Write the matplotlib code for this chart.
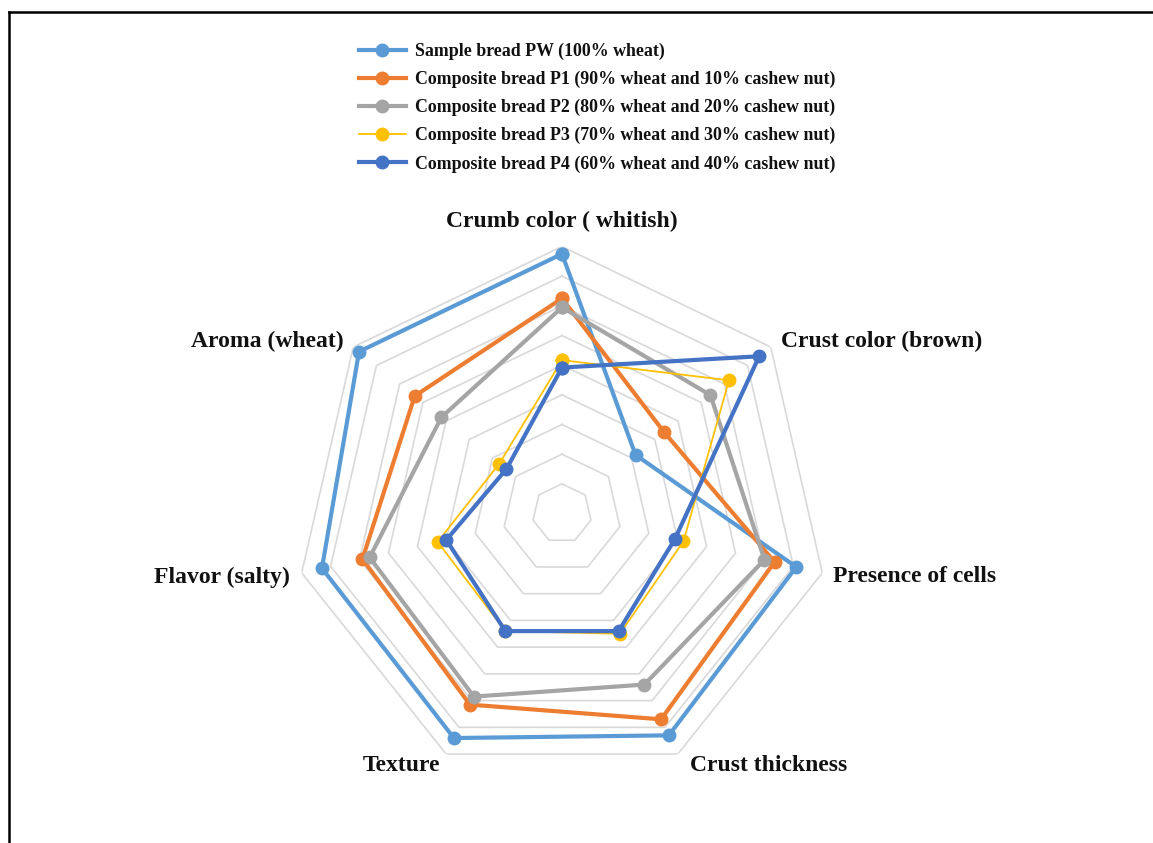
import numpy as np
import matplotlib.pyplot as plt
from matplotlib.lines import Line2D

# --- data ---
categories = ["Crumb color ( whitish)", "Crust color (brown)", "Presence of cells",
              "Crust thickness", "Texture", "Flavor (salty)", "Aroma (wheat)"]
series_names = ["Sample bread PW (100% wheat)",
                "Composite bread P1 (90% wheat and 10% cashew nut)",
                "Composite bread P2 (80% wheat and 20% cashew nut)",
                "Composite bread P3 (70% wheat and 30% cashew nut)",
                "Composite bread P4 (60% wheat and 40% cashew nut)"]
pw = [8.75, 3.17, 8.1, 8.3, 8.4, 8.3, 8.75]
p1 = [7.25, 4.4, 7.35, 7.7, 7.15, 6.9, 6.35]
p2 = [6.95, 6.4, 7.0, 6.4, 6.85, 6.65, 5.2]
p3 = [5.17, 7.2, 4.2, 4.5, 4.4, 4.3, 2.7]
p4 = [4.92, 8.5, 3.9, 4.4, 4.4, 4.0, 2.4]
# -------------

colors = ["#5B9BD5", "#ED7D31", "#A5A5A5", "#FFC000", "#4472C4"]
widths = [3.0, 3.0, 3.0, 1.3, 3.0]

W, H = 1153, 843
fig = plt.figure(figsize=(W / 100, H / 100), dpi=100)

cx, cy, R = 562, 513.5, 267
ax = fig.add_axes([(cx - R) / W, (H - cy - R) / H, 2 * R / W, 2 * R / H],
                  projection="polar")
ax.set_theta_offset(np.pi / 2)
ax.set_theta_direction(-1)
ax.set_ylim(0, 9)
ax.grid(False)
ax.spines["polar"].set_visible(False)
ax.set_xticks([])
ax.set_yticks([])
ax.patch.set_alpha(0)

n = len(categories)
theta = np.linspace(0, 2 * np.pi, n, endpoint=False)
theta_c = np.append(theta, theta[0])

# heptagon grid
for r in range(1, 10):
    ax.plot(theta_c, [r] * (n + 1), color="#D9D9D9", lw=1.2, zorder=1)

for name, vals, c, lw in zip(series_names, [pw, p1, p2, p3, p4], colors, widths):
    v = np.append(vals, vals[0])
    ax.plot(theta_c, v, color=c, lw=lw, marker="o", markersize=9,
            label=name, zorder=3, solid_joinstyle="miter")

# category labels
offsets = [(0, 25, "center"), (10, 6, "left"), (11, -4, "left"), (12, -11, "left"),
           (-6, -11, "right"), (-12, -4, "right"), (-10, 6, "right")]
for t, lab, (dx, dy, ha) in zip(theta, categories, offsets):
    ax.annotate(lab, xy=(t, 9), xytext=(dx, dy), textcoords="offset pixels",
                ha=ha, va="center", fontsize=17, fontweight="bold",
                family="Liberation Serif", color="#111111", annotation_clip=False)

leg = fig.legend(loc="upper left", bbox_to_anchor=(350 / W, 1 - 34 / H),
                 frameon=False, handlelength=2.6, handletextpad=0.55,
                 labelspacing=0.6, borderpad=0,
                 prop={"family": "Liberation Serif", "weight": "bold", "size": 12.9})
for t in leg.get_texts():
    t.set_color("#111111")

# page border (left and top edges)
fig.add_artist(Line2D([8.5 / W, 8.5 / W], [0, 1 - 11.5 / H], color="black", lw=1.8,
                      transform=fig.transFigure))
fig.add_artist(Line2D([8.5 / W, 1], [1 - 11.5 / H, 1 - 11.5 / H], color="black", lw=1.8,
                      transform=fig.transFigure))

fig.savefig("out.png", dpi=100)
